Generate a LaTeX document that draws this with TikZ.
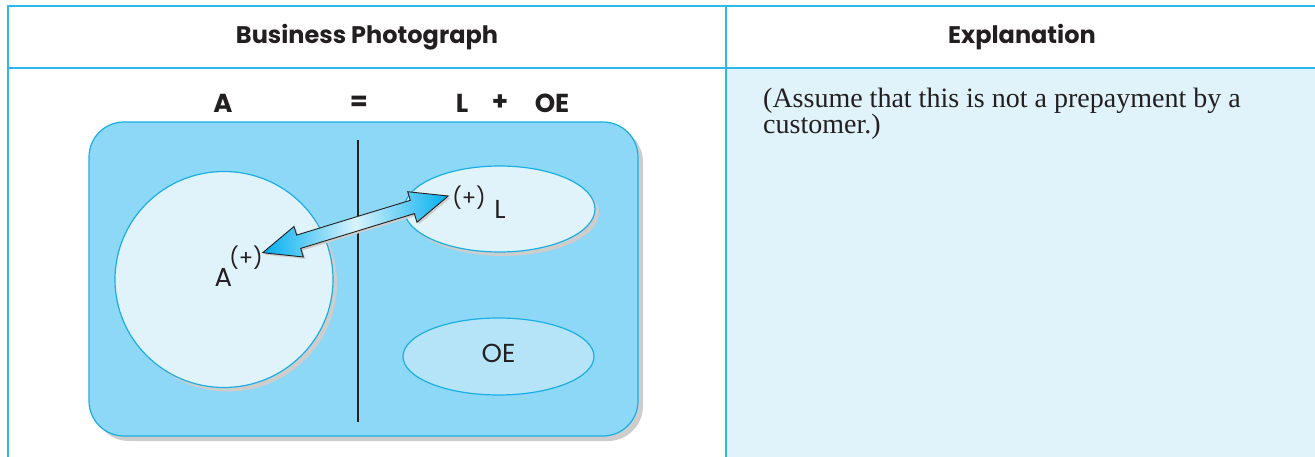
\documentclass[tikz,border=0pt]{standalone}
\usepackage{fontspec}
\setmainfont{Liberation Serif}
\setsansfont{Poppins}
\usetikzlibrary{shapes.geometric,shapes.arrows,shadows,calc}

\definecolor{tableline}{HTML}{2DB8EC}
\definecolor{paleblue}{HTML}{E0F3FA}
\definecolor{photoblue}{HTML}{8CD8F6}
\definecolor{rimblue}{HTML}{1BAEE3}
\definecolor{oeblue}{HTML}{B5E4F8}
\definecolor{arrowcyan}{HTML}{00AEEF}
\definecolor{shadegrey}{HTML}{CDCDCD}
\definecolor{ink}{HTML}{231F20}

\tikzset{
  grid line/.style={draw=tableline, line width=1.3pt},
  head/.style={font=\sffamily\bfseries\fontsize{24}{24}\selectfont, text=ink, inner sep=0pt},
  eqtxt/.style={font=\sffamily\bfseries\fontsize{26}{26}\selectfont, text=ink, inner sep=0pt},
  bubble/.style={ellipse, draw=rimblue, line width=1.2pt, fill=paleblue, inner sep=0pt},
  greyshadow/.style={drop shadow={shadow xshift=#1, shadow yshift=-#1, fill=shadegrey, opacity=1}},
  txt/.style={font=\sffamily\fontsize{26}{26}\selectfont, text=ink, inner sep=0pt},
  signtxt/.style={font=\sffamily\fontsize{21}{21}\selectfont, text=ink, inner sep=0pt}
}

\begin{document}
\begin{tikzpicture}[x=1pt, y=-1pt]
\useasboundingbox (0,0) rectangle (1315,457);

% table
\fill[paleblue] (726,68) rectangle (1315,457);
\draw[grid line] (8,457) -- (8,6) -- (1315,6);
\draw[grid line] (8,68) -- (1315,68);
\draw[grid line] (726,6) -- (726,457);
\node[head] (photohead) at (367,37) {Business Photograph};
\node[head] (explhead) at (1022,37) {Explanation};

% equation row
\node[eqtxt] (eqA) at (223,103) {A};
\node[eqtxt] (eqeq) at (359,103) {=};
\node[eqtxt] (eqL) at (462,103) {L};
\node[eqtxt] (eqplus) at (500,103) {+};
\node[eqtxt] (eqOE) at (552,103) {OE};

% the photograph
\node[draw=rimblue, line width=1.2pt, fill=photoblue, rounded corners=35pt,
      minimum width=549pt, minimum height=314pt, greyshadow=5pt] (photo) at (363.5,279) {};
\draw[line width=1.5pt, ink] (358,140) -- (358,422);
\node[bubble, minimum width=218pt, minimum height=216pt, greyshadow=4pt] (asset) at (224,279.5) {};
\node[bubble, minimum width=191pt, minimum height=86pt, greyshadow=4pt] (liab) at (499.5,209) {};
\node[bubble, fill=oeblue, minimum width=191pt, minimum height=77pt] (equity) at (498.5,356.5) {};

% the arrow
\coordinate (tipA) at (262.7,252.7);
\coordinate (tipL) at (448.3,196);
\node[double arrow, rotate=17, minimum height=194pt, minimum width=0pt,
      inner xsep=0pt, inner ysep=6.5pt, double arrow head extend=9pt, double arrow tip angle=46,
      draw=ink, line width=0.9pt, left color=arrowcyan, right color=arrowcyan, middle color=white!85!arrowcyan,
      greyshadow=2pt] (swap) at ($(tipA)!0.5!(tipL)$) {};

% labels
\node[txt] (alabel) at (223.5,277.5) {A};
\node[signtxt] (aplus) at (246,257.5) {(+)};
\node[signtxt] (lplus) at (469,198) {(+)};
\node[txt] (llabel) at (500,209.5) {L};
\node[txt] (oelabel) at (498.5,353) {OE};

% explanation
\node[anchor=north west, align=left, font=\fontsize{28}{26}\selectfont, text=ink, inner sep=0pt] (explain)
  at (763,88) {(Assume that this is not a prepayment by a\\customer.)};
\end{tikzpicture}
\end{document}
